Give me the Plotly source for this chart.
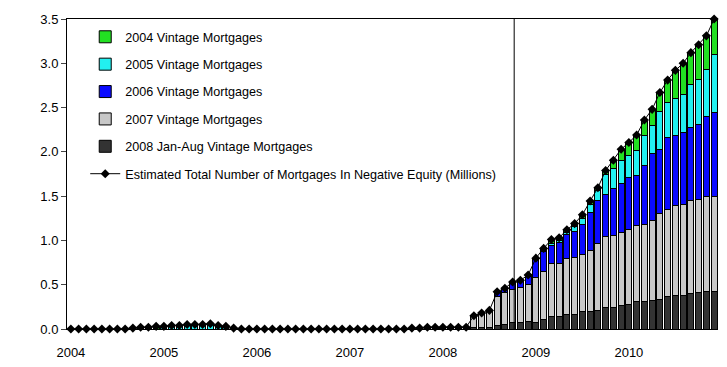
import plotly.graph_objects as go

# Month index 0 = Jan 2004 ... 83 = Dec 2010
year_ticks = [0, 12, 24, 36, 48, 60, 72]
year_labels = ["2004", "2005", "2006", "2007", "2008", "2009", "2010"]

z8 = [0.0] * 8
z22 = [0.0] * 22

# early months (idx 0-51)
early_green = z8 + [0.01, 0.02, 0.02, 0.03, 0.01, 0.01, 0.01, 0.01, 0.01, 0.01, 0.01, 0.01, 0.01, 0.01] + z22 + [0.0] * 8
early_cyan = z8 + [0.0, 0.0, 0.0, 0.0, 0.02, 0.03, 0.03, 0.04, 0.04, 0.04, 0.05, 0.03, 0.02, 0.0] + z22 + [0.0] * 8
early_gray = z8 + [0.0] * 14 + z22 + [0.01, 0.01, 0.02, 0.02, 0.02, 0.02, 0.02, 0.02]
early_total = z8 + [0.01, 0.02, 0.02, 0.03, 0.03, 0.04, 0.04, 0.05, 0.05, 0.05, 0.06, 0.04, 0.03, 0.01] + z22 + [0.01, 0.01, 0.02, 0.02, 0.02, 0.02, 0.02, 0.02]

# idx 52-83 (May 2008 - Dec 2010)
late_dark = [0.013, 0.015, 0.02, 0.04, 0.047, 0.07, 0.07, 0.088, 0.077, 0.107, 0.138, 0.138, 0.164, 0.164,
             0.20, 0.20, 0.21, 0.24, 0.24, 0.266, 0.277, 0.315, 0.315, 0.326, 0.334, 0.37, 0.379, 0.379,
             0.40, 0.416, 0.428, 0.428]
late_gray = [0.137, 0.165, 0.19, 0.33, 0.363, 0.377, 0.396, 0.412, 0.503, 0.547, 0.599, 0.599, 0.63, 0.641,
             0.643, 0.688, 0.76, 0.81, 0.82, 0.829, 0.848, 0.855, 0.865, 0.894, 0.973, 0.98, 1.011, 1.031,
             1.053, 1.049, 1.067, 1.067]
late_blue = [0.0, 0.0, 0.0, 0.045, 0.045, 0.073, 0.068, 0.095, 0.206, 0.216, 0.207, 0.243, 0.276, 0.301,
             0.337, 0.432, 0.476, 0.47, 0.526, 0.551, 0.585, 0.566, 0.67, 0.76, 0.723, 0.81, 0.79, 0.81,
             0.823, 0.845, 0.905, 0.95]
late_cyan = [0.0, 0.0, 0.0, 0.0, 0.005, 0.005, 0.01, 0.01, 0.014, 0.015, 0.023, 0.015, 0.025, 0.05,
             0.065, 0.09, 0.114, 0.23, 0.224, 0.254, 0.245, 0.284, 0.33, 0.32, 0.43, 0.40, 0.42, 0.43,
             0.479, 0.505, 0.535, 0.655]
late_green = [0.0, 0.0, 0.0, 0.005, 0.0, 0.005, 0.006, 0.005, 0.0, 0.025, 0.043, 0.035, 0.025, 0.034,
              0.045, 0.035, 0.035, 0.04, 0.095, 0.13, 0.15, 0.17, 0.18, 0.18, 0.21, 0.25, 0.32, 0.35,
              0.365, 0.395, 0.375, 0.40]
late_total = [0.15, 0.18, 0.21, 0.42, 0.46, 0.53, 0.55, 0.61, 0.80, 0.91, 1.01, 1.03, 1.12, 1.19,
              1.29, 1.445, 1.595, 1.79, 1.905, 2.03, 2.105, 2.19, 2.36, 2.48, 2.67, 2.81, 2.92, 3.00,
              3.12, 3.21, 3.31, 3.50]

v2008 = [0.0] * 52 + late_dark
v2007 = early_gray + late_gray
v2006 = [0.0] * 52 + late_blue
v2005 = early_cyan + late_cyan
v2004 = early_green + late_green
total = early_total + late_total

months = list(range(84))
current_month = 57.2

series = [
    ("2008 Jan-Aug Vintage Mortgages", v2008, "#333333", 5),
    ("2007 Vintage Mortgages", v2007, "#c8c8c8", 4),
    ("2006 Vintage Mortgages", v2006, "#0a0aff", 3),
    ("2005 Vintage Mortgages", v2005, "#22f0f0", 2),
    ("2004 Vintage Mortgages", v2004, "#22e022", 1),
]

fig = go.Figure()
for name, vals, col, rank in series:
    fig.add_trace(go.Bar(
        x=months, y=vals, name=name, marker=dict(color=col, line=dict(color="black", width=1)),
        legendrank=rank, legendgroup=name,
    ))
fig.add_trace(go.Scatter(
    x=months, y=total, mode="lines+markers",
    name="Estimated Total Number of Mortgages In Negative Equity (Millions)",
    line=dict(color="black", width=1), marker=dict(symbol="diamond", size=7, color="black"),
    legendrank=6, legendgroup="total", cliponaxis=False,
))

fig.add_shape(type="line", x0=current_month, x1=current_month, y0=0, y1=3.5,
              xref="x", yref="y", line=dict(color="black", width=1))

fig.update_layout(
    width=727, height=367,
    margin=dict(l=67, r=9, t=19, b=38),
    barmode="stack", bargap=0.2,
    plot_bgcolor="white", paper_bgcolor="white",
    font=dict(family="Arial, Liberation Sans, sans-serif", size=13, color="black"),
    showlegend=True,
    legend=dict(x=0.028, y=0.99, xanchor="left", yanchor="top", bgcolor="rgba(0,0,0,0)",
                font=dict(size=12.6), traceorder="grouped", tracegroupgap=8),
    xaxis=dict(range=[-0.5, 83.5], tickvals=year_ticks, ticktext=year_labels, showgrid=False,
               showline=True, linecolor="black", linewidth=1, mirror=True, ticks="", zeroline=False,
               automargin=False, ticklabelstandoff=11),
    yaxis=dict(range=[0, 3.5], dtick=0.5, tickformat=".1f", showgrid=False, showline=True,
               linecolor="black", linewidth=1, ticks="outside", ticklen=5, zeroline=False,
               automargin=False),
)

fig.write_html("out.html", post_script="document.body.style.margin='0';",
               config={"displayModeBar": False})
